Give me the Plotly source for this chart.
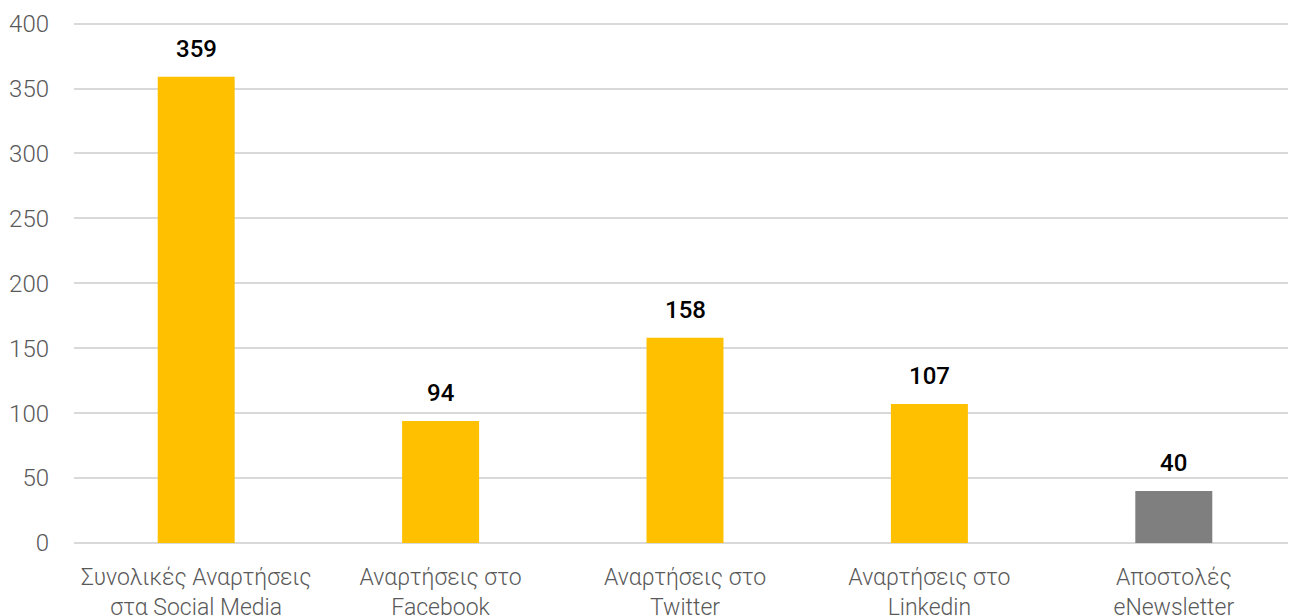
import plotly.graph_objects as go

categories = ["Συνολικές Αναρτήσεις<br>στα Social Media", "Αναρτήσεις στο<br>Facebook",
              "Αναρτήσεις στο<br>Twitter", "Αναρτήσεις στο<br>Linkedin", "Αποστολές<br>eNewsletter"]
values = [359, 94, 158, 107, 40]
colors = ["#FFC000", "#FFC000", "#FFC000", "#FFC000", "#7F7F7F"]
yticks = [0, 50, 100, 150, 200, 250, 300, 350, 400]

fig = go.Figure(go.Bar(
    x=categories, y=values, marker_color=colors, marker_line_width=0,
    cliponaxis=False, hoverinfo="x+y",
))
for c, v in zip(categories, values):
    fig.add_annotation(x=c, y=v, text=str(v), showarrow=False, yanchor="bottom", yshift=12,
                       font=dict(family="Roboto", size=24, color="#000000", weight=500))

fig.update_layout(
    width=1288, height=608,
    margin=dict(l=66, r=0, t=13, b=73),
    plot_bgcolor="white", paper_bgcolor="white",
    bargap=0.685, showlegend=False,
    font=dict(family="Roboto", size=23, color="#595959", weight=300),
)
fig.update_xaxes(showgrid=False, ticks="", tickfont=dict(size=23, weight=300),
                 ticklabelstandoff=18, automargin=False)
fig.update_yaxes(range=[0, 402], tickvals=yticks,
                 showgrid=True, gridcolor="#D9D9D9", gridwidth=1.5,
                 zeroline=True, zerolinecolor="#D9D9D9", zerolinewidth=1.5,
                 tickfont=dict(size=24, weight=300), ticklabelstandoff=24, automargin=False)
fig.write_html("out.html")
